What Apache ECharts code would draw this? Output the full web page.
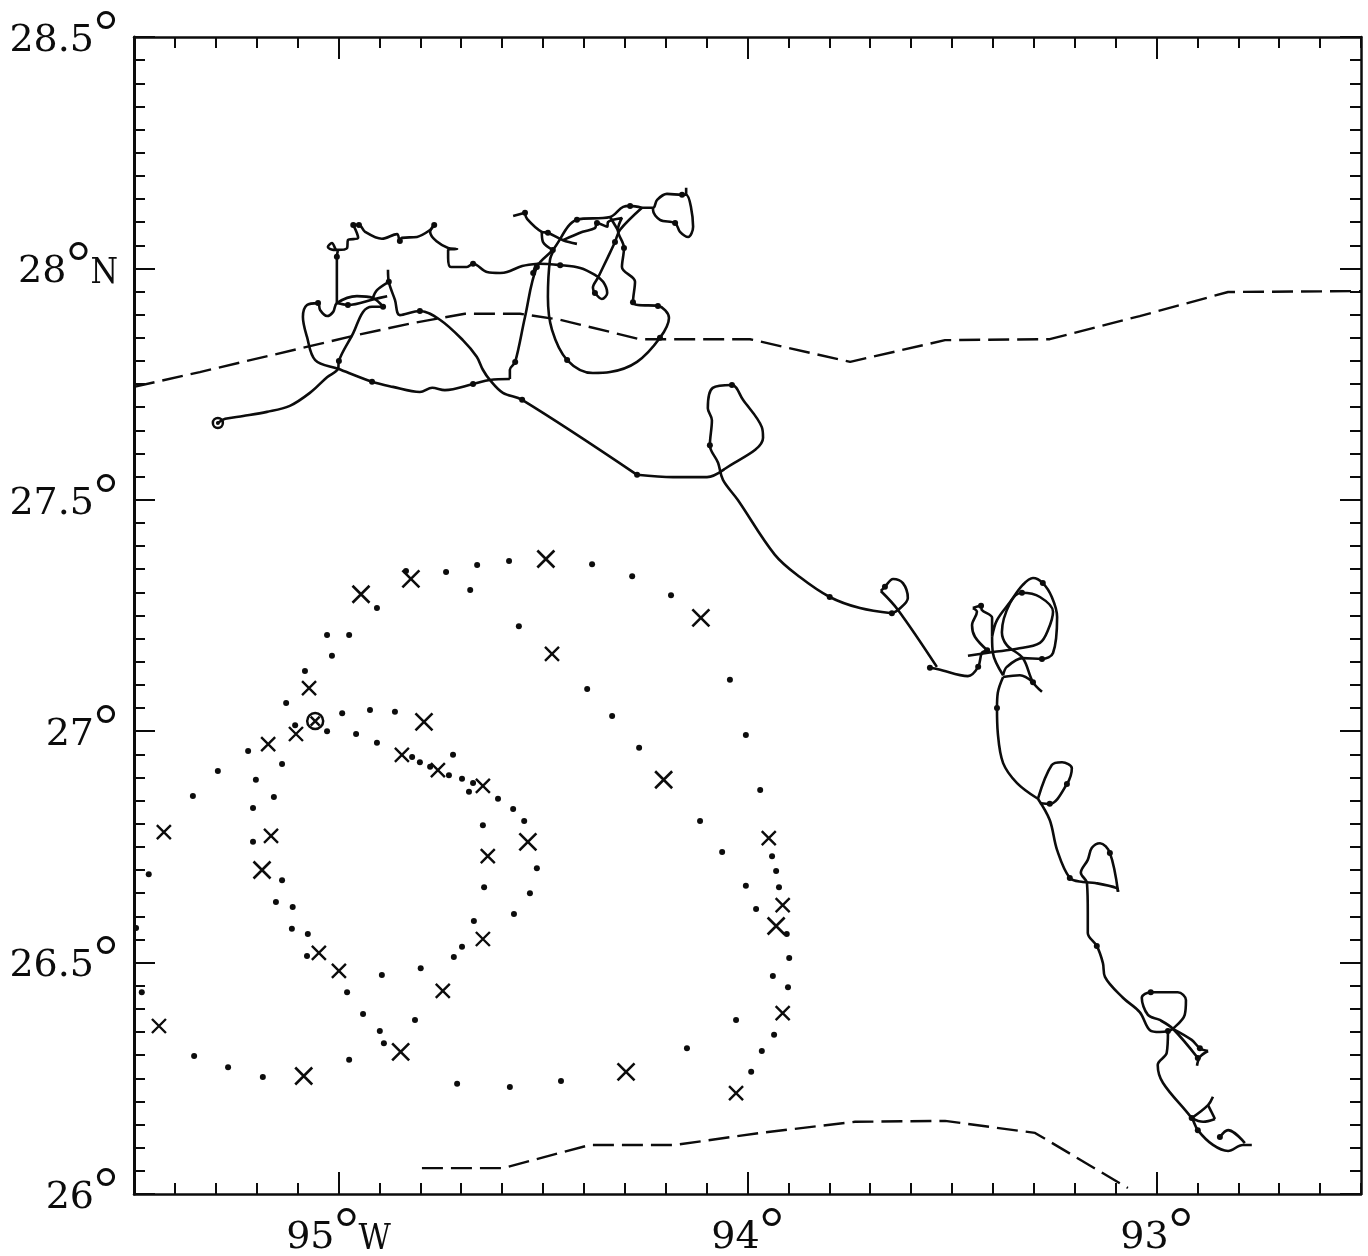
<!DOCTYPE html>
<html><head><meta charset="utf-8">
<style>html,body{margin:0;padding:0;background:#fff}#c{width:1368px;height:1256px}</style>
<script src="https://cdn.jsdelivr.net/npm/echarts@6/dist/echarts.min.js"></script>
</head><body><div id="c"></div>
<script>
// All positions: [degrees west longitude, degrees north latitude]
const lonTicks = [95, 94, 93];
const latTicks = [26, 26.5, 27, 27.5, 28, 28.5];

const trackWest = [[95.295,27.666],[95.277,27.675],[95.233,27.681],[95.175,27.690],[95.119,27.703],[95.070,27.731],[95.028,27.765],[95.001,27.783],[94.999,27.800],[94.964,27.860],[94.940,27.906],[94.918,27.917],[94.891,27.917]];
const trackKnot = [[94.891,27.917],[94.916,27.936],[94.955,27.940],[95.004,27.925],[95.013,27.906],[95.028,27.897],[95.045,27.910],[95.050,27.925],[95.077,27.921],[95.087,27.895],[95.077,27.852],[95.057,27.802],[95.001,27.783],[94.918,27.755],[94.867,27.744],[94.801,27.733],[94.771,27.742],[94.740,27.737],[94.671,27.750],[94.630,27.759],[94.581,27.761]];
const trackRise = [[94.581,27.761],[94.581,27.781],[94.568,27.798],[94.544,27.895],[94.515,28.003],[94.476,28.040],[94.417,28.105],[94.336,28.111],[94.304,28.133],[94.287,28.135],[94.258,28.131]];
const trackHook = [[94.258,28.131],[94.312,28.083],[94.324,28.057],[94.341,28.025],[94.365,27.981],[94.378,27.958],[94.373,27.947],[94.356,27.934],[94.343,27.947],[94.353,27.971],[94.373,27.986],[94.409,28.001],[94.458,28.007],[94.512,28.010],[94.524,27.990]];
const trackNorth = [[95.004,27.925],[95.004,28.025],[95.001,28.040],[95.013,28.040],[95.026,28.046],[95.016,28.055],[95.004,28.040],[94.979,28.044],[94.977,28.061],[94.952,28.066],[94.964,28.094],[94.950,28.094],[94.935,28.079],[94.894,28.064],[94.857,28.074],[94.850,28.059],[94.845,28.066],[94.808,28.068],[94.776,28.083],[94.766,28.094]];
const trackNorth2 = [[94.766,28.094],[94.776,28.079],[94.732,28.044],[94.710,28.042],[94.732,28.040],[94.732,28.023],[94.725,28.003],[94.686,28.003],[94.671,28.010],[94.637,27.992],[94.605,27.990],[94.588,27.992],[94.551,28.005],[94.512,28.010]];
const trackSpur = [[95.004,27.925],[94.977,27.921],[94.911,27.934],[94.881,27.940]];
const trackSpur2 = [[94.916,27.936],[94.906,27.953],[94.877,27.971]];
const trackMain1 = [[94.879,27.997],[94.877,27.971],[94.862,27.932],[94.850,27.899],[94.801,27.908],[94.752,27.889],[94.696,27.845],[94.662,27.809],[94.647,27.781],[94.630,27.759],[94.598,27.731],[94.551,27.716],[94.270,27.554]];
const trackMain2 = [[94.270,27.554],[94.182,27.549],[94.099,27.549],[94.055,27.567],[93.962,27.634],[93.965,27.657],[94.011,27.716],[94.038,27.748],[94.085,27.742],[94.097,27.698],[94.087,27.672],[94.092,27.618],[94.072,27.580],[94.060,27.543],[94.024,27.500],[93.933,27.381],[93.872,27.333],[93.799,27.290],[93.725,27.266],[93.647,27.255]];
const trackMain3 = [[93.647,27.255],[93.632,27.262],[93.608,27.288],[93.620,27.320],[93.644,27.329],[93.664,27.312],[93.674,27.303]];
const trackMain4 = [[93.674,27.303],[93.632,27.262],[93.537,27.139]];
const trackMain5 = [[93.554,27.137],[93.534,27.134],[93.461,27.119],[93.436,27.139],[93.427,27.169],[93.414,27.175]];
const trackLoopA = [[93.414,27.175],[93.444,27.204],[93.451,27.229],[93.439,27.258],[93.449,27.266]];
const trackLoopB = [[93.449,27.266],[93.429,27.271],[93.427,27.262],[93.402,27.245],[93.402,27.204],[93.390,27.240],[93.358,27.279],[93.327,27.316],[93.302,27.331],[93.278,27.320],[93.256,27.290],[93.243,27.247],[93.253,27.169],[93.280,27.156],[93.327,27.158],[93.366,27.139],[93.375,27.121]];
const trackLoopC = [[93.375,27.121],[93.400,27.169],[93.402,27.204]];
const trackLoopD = [[93.461,27.163],[93.400,27.171],[93.341,27.178],[93.285,27.191],[93.265,27.219],[93.253,27.258],[93.285,27.290],[93.329,27.299],[93.358,27.277],[93.378,27.214],[93.366,27.186],[93.327,27.158],[93.302,27.106],[93.280,27.085]];
const trackLoopE = [[93.375,27.117],[93.334,27.121],[93.302,27.106]];
const trackSouth1 = [[93.375,27.117],[93.388,27.083],[93.390,27.050],[93.388,26.996],[93.375,26.931],[93.341,26.888],[93.290,26.854]];
const trackSouth2 = [[93.290,26.854],[93.256,26.927],[93.231,26.933],[93.207,26.920],[93.219,26.886],[93.261,26.843],[93.285,26.845]];
const trackSouth3 = [[93.290,26.854],[93.261,26.808],[93.243,26.743],[93.212,26.683],[93.180,26.674],[93.150,26.672],[93.097,26.661],[93.094,26.653]];
const trackSouth4 = [[93.094,26.653],[93.114,26.737],[93.138,26.758],[93.158,26.748],[93.168,26.722],[93.185,26.694],[93.170,26.672],[93.168,26.607],[93.168,26.564],[93.146,26.536],[93.131,26.499],[93.126,26.469],[93.082,26.424],[93.041,26.393],[93.016,26.354],[92.992,26.350],[92.972,26.352],[92.960,26.357],[92.931,26.387],[92.928,26.419],[92.948,26.436],[93.014,26.436],[93.036,26.424],[93.021,26.387],[92.992,26.376],[92.960,26.357],[92.899,26.294]];
const trackEnd1 = [[92.960,26.357],[92.914,26.333],[92.894,26.315],[92.874,26.309]];
const trackEnd2 = [[92.874,26.309],[92.894,26.296],[92.901,26.277]];
const trackEnd3 = [[92.972,26.352],[92.975,26.305],[92.997,26.279],[92.984,26.240],[92.914,26.164],[92.899,26.138],[92.862,26.106],[92.825,26.093],[92.789,26.106],[92.767,26.106]];
const trackEnd4 = [[92.784,26.110],[92.825,26.138],[92.845,26.123]];
const trackEnd5 = [[92.914,26.164],[92.874,26.192],[92.862,26.210]];
const trackEnd6 = [[92.874,26.192],[92.857,26.162]];
const trackEnd7 = [[92.857,26.162],[92.886,26.156],[92.914,26.164]];
const trackTop1 = [[94.573,28.113],[94.544,28.120]];
const trackTop2 = [[94.544,28.120],[94.539,28.107],[94.503,28.079],[94.488,28.077],[94.451,28.061],[94.417,28.053]];
const trackTop3 = [[94.503,28.079],[94.500,28.057],[94.476,28.040]];
const trackTop4 = [[94.451,28.061],[94.403,28.079],[94.373,28.087],[94.368,28.098],[94.343,28.090],[94.341,28.100],[94.329,28.105],[94.307,28.109],[94.317,28.083],[94.302,28.044],[94.307,28.003],[94.275,27.971],[94.280,27.927],[94.268,27.921],[94.219,27.919],[94.192,27.893],[94.214,27.850],[94.270,27.798],[94.336,27.776],[94.378,27.774],[94.441,27.802],[94.478,27.867],[94.488,27.938],[94.483,28.018],[94.473,28.040]];
const trackTop5 = [[94.336,28.111],[94.317,28.083]];
const trackEast = [[94.258,28.131],[94.231,28.131],[94.221,28.148],[94.197,28.161],[94.160,28.159],[94.150,28.159],[94.133,28.090],[94.145,28.068],[94.165,28.079],[94.177,28.098],[94.214,28.105],[94.231,28.126],[94.231,28.131]];
const trackTip = [[94.150,28.174],[94.150,28.159]];
const tracks = [trackWest,trackKnot,trackRise,trackHook,trackNorth,trackNorth2,trackSpur,trackSpur2,trackMain1,trackMain2,trackMain3,trackMain4,trackMain5,trackLoopA,trackLoopB,trackLoopC,trackLoopD,trackLoopE,trackSouth1,trackSouth2,trackSouth3,trackSouth4,trackEnd1,trackEnd2,trackEnd3,trackEnd4,trackEnd5,trackEnd6,trackEnd7,trackTop1,trackTop2,trackTop3,trackTop4,trackTop5,trackEast,trackTip];

const trackFixes = [[94.999,27.800],[94.891,27.917],[94.977,27.921],[95.050,27.925],[95.004,28.025],[94.950,28.094],[94.964,28.094],[94.850,28.059],[94.766,28.094],[94.671,28.010],[94.877,27.971],[94.801,27.908],[94.918,27.755],[94.671,27.750],[94.568,27.798],[94.515,28.003],[94.524,27.990],[94.476,28.040],[94.417,28.105],[94.368,28.098],[94.373,27.947],[94.324,28.057],[94.302,28.044],[94.280,27.927],[94.219,27.919],[94.214,27.850],[94.441,27.802],[94.551,27.716],[94.270,27.554],[94.458,28.007],[94.488,28.077],[94.544,28.120],[94.287,28.135],[94.160,28.159],[94.177,28.098],[94.038,27.748],[94.092,27.618],[93.799,27.290],[93.647,27.255],[93.664,27.312],[93.554,27.137],[93.436,27.139],[93.414,27.175],[93.429,27.271],[93.329,27.299],[93.278,27.320],[93.280,27.156],[93.302,27.106],[93.390,27.050],[93.261,26.843],[93.219,26.886],[93.212,26.683],[93.114,26.737],[93.146,26.536],[93.014,26.436],[92.972,26.352],[92.894,26.315],[92.899,26.294],[92.914,26.164],[92.899,26.138],[92.845,26.123]];

const driftDots = [[94.835,27.346],[94.737,27.344],[94.661,27.359],[94.583,27.368],[94.678,27.305],[94.380,27.361],[94.282,27.335],[94.187,27.294],[94.559,27.227],[94.906,27.266],[95.028,27.208],[94.974,27.208],[95.016,27.163],[95.082,27.130],[95.128,27.061],[94.991,27.039],[94.923,27.046],[94.862,27.042],[95.106,27.013],[95.028,27.000],[94.957,26.994],[94.906,26.975],[95.221,26.957],[94.720,26.949],[94.820,26.944],[94.801,26.933],[94.776,26.923],[95.138,26.929],[95.295,26.914],[95.202,26.895],[94.730,26.905],[94.698,26.897],[94.681,26.869],[94.671,26.888],[95.158,26.858],[95.356,26.860],[95.209,26.834],[95.209,26.761],[95.464,26.691],[95.138,26.678],[95.153,26.631],[95.112,26.620],[95.495,26.575],[95.114,26.573],[95.075,26.562],[95.077,26.514],[95.481,26.436],[94.894,26.473],[94.979,26.436],[94.799,26.488],[94.718,26.512],[94.698,26.534],[94.940,26.389],[94.813,26.376],[94.899,26.352],[94.889,26.326],[95.353,26.298],[94.974,26.290],[95.270,26.274],[95.185,26.253],[94.710,26.238],[94.610,26.854],[94.573,26.832],[94.546,26.806],[94.647,26.797],[94.515,26.704],[94.644,26.663],[94.532,26.650],[94.571,26.605],[94.669,26.590],[94.581,26.231],[94.456,26.244],[94.148,26.315],[94.028,26.376],[93.935,26.344],[93.965,26.309],[93.991,26.264],[94.392,27.091],[94.331,27.033],[94.265,26.964],[94.043,27.111],[94.004,26.992],[93.969,26.873],[94.116,26.806],[94.062,26.739],[94.004,26.666],[93.940,26.730],[93.930,26.698],[93.923,26.663],[93.979,26.616],[93.904,26.562],[93.898,26.510],[93.938,26.471],[93.901,26.447]];

const crossesLarge = [[94.823,27.329],[94.945,27.296],[94.791,27.020],[95.187,26.700],[95.085,26.255],[94.848,26.307],[94.493,27.372],[94.114,27.245],[94.205,26.895],[94.537,26.761],[94.297,26.264],[93.930,26.579]];
const crossesSmall = [[95.072,27.093],[95.104,26.994],[95.172,26.972],[94.845,26.949],[94.757,26.916],[95.427,26.782],[95.165,26.774],[95.048,26.521],[94.999,26.482],[94.745,26.439],[95.439,26.363],[94.478,27.167],[94.647,26.882],[93.948,26.769],[94.635,26.730],[94.647,26.551],[94.028,26.218],[93.914,26.391],[93.914,26.624]];

const startMark = [[95.295,27.666]];
const endMark = [[95.057,27.022]];

const coastNorth = [[95.5,27.744],[95.339,27.776],[95.070,27.832],[94.955,27.856],[94.818,27.882],[94.691,27.902],[94.556,27.902],[94.458,27.889],[94.263,27.847],[93.994,27.847],[93.749,27.798],[93.517,27.845],[93.261,27.847],[93.041,27.897],[92.825,27.949],[92.5,27.951]];
const coastSouth = [[94.796,26.056],[94.598,26.056],[94.385,26.106],[94.177,26.106],[93.969,26.132],[93.737,26.156],[93.517,26.158],[93.297,26.132],[93.070,26.013]];

const INK = '#0c0c0c';
const FONT = '"DejaVu Serif","Liberation Serif",serif';
const LH = 46;
const rich = {
  d: {fontFamily: FONT, fontSize: 38, color: INK, verticalAlign: 'bottom', lineHeight: LH},
  o: {fontFamily: '"Liberation Serif",serif', fontSize: 60, color: INK, verticalAlign: 'bottom', lineHeight: LH, padding: [0, 0, -5, 0]},
  l: {fontFamily: '"DejaVu Serif Condensed","DejaVu Serif",serif', fontSize: 35, color: INK, verticalAlign: 'bottom', lineHeight: LH}
};
const latLabel = v => v === 28 ? '{d|28}{o|°}{l|N}' : '{d|' + v + '}{o|°}';
const lonLabel = v => v === 95 ? '{d|95}{o|°}{l|W}' : '{d|' + v + '}{o|°}';

const rect = {left: 134, top: 37, width: 1227, height: 1157, containLabel: false, outerBoundsMode: 'none'};
const line = w => ({show: true, onZero: false, lineStyle: {color: INK, width: w}});
const xBase = {type: 'value', inverse: true, min: 92.5, max: 95.5, splitLine: {show: false}};
const yBase = {type: 'value', min: 26, max: 28.5, splitLine: {show: false}};
const tick = len => ({show: true, inside: true, length: len, lineStyle: {color: INK, width: 2}});
const hide = {show: false};
const solid = {color: INK, opacity: 1};
const stroked = w => ({color: 'transparent', borderColor: INK, borderWidth: w, opacity: 1});
const CROSS = 'path://M0,0L10,10M10,0L0,10';

const option = {
  animation: false,
  backgroundColor: '#fff',
  grid: [Object.assign({}, rect), Object.assign({}, rect)],
  xAxis: [
    Object.assign({}, xBase, {gridIndex: 0, position: 'bottom', interval: 0.1, axisLine: line(2.5), axisTick: tick(11), axisLabel: hide}),
    Object.assign({}, xBase, {gridIndex: 0, position: 'top', interval: 0.1, axisLine: line(2.5), axisTick: tick(11), axisLabel: hide}),
    Object.assign({}, xBase, {gridIndex: 1, position: 'bottom', axisLine: hide,
      axisTick: Object.assign(tick(22), {customValues: lonTicks}),
      axisLabel: {show: true, customValues: lonTicks, margin: 17, formatter: lonLabel, rich: rich, hideOverlap: false}}),
    Object.assign({}, xBase, {gridIndex: 1, position: 'top', axisLine: hide,
      axisTick: Object.assign(tick(22), {customValues: lonTicks}), axisLabel: hide})
  ],
  yAxis: [
    Object.assign({}, yBase, {gridIndex: 0, position: 'left', interval: 0.05, axisLine: line(3), axisTick: tick(11), axisLabel: hide}),
    Object.assign({}, yBase, {gridIndex: 0, position: 'right', interval: 0.05, axisLine: line(2.5), axisTick: tick(11), axisLabel: hide}),
    Object.assign({}, yBase, {gridIndex: 1, position: 'left', axisLine: hide,
      axisTick: Object.assign(tick(21), {customValues: latTicks}),
      axisLabel: {show: true, customValues: latTicks, margin: 16, formatter: latLabel, rich: rich, hideOverlap: false}}),
    Object.assign({}, yBase, {gridIndex: 1, position: 'right', axisLine: hide,
      axisTick: Object.assign(tick(21), {customValues: latTicks}), axisLabel: hide})
  ],
  series: [
    ...tracks.map(t => ({type: 'line', xAxisIndex: 0, yAxisIndex: 0, data: t, smooth: 0.35, showSymbol: false, symbol: 'none',
      lineStyle: {color: INK, width: 2.6}, silent: true})),
    {type: 'line', xAxisIndex: 0, yAxisIndex: 0, data: coastNorth, showSymbol: false, symbol: 'none',
      lineStyle: {color: INK, width: 2.4, type: [21, 8]}},
    {type: 'line', xAxisIndex: 0, yAxisIndex: 0, data: coastSouth, showSymbol: false, symbol: 'none',
      lineStyle: {color: INK, width: 2.4, type: [21, 8]}},
    {type: 'scatter', xAxisIndex: 0, yAxisIndex: 0, data: trackFixes, symbol: 'circle', symbolSize: 6, itemStyle: solid},
    {type: 'scatter', xAxisIndex: 0, yAxisIndex: 0, data: driftDots, symbol: 'circle', symbolSize: 6, itemStyle: solid},
    {type: 'scatter', xAxisIndex: 0, yAxisIndex: 0, data: crossesLarge, symbol: CROSS, symbolSize: 17, itemStyle: stroked(2.6)},
    {type: 'scatter', xAxisIndex: 0, yAxisIndex: 0, data: crossesSmall, symbol: CROSS, symbolSize: 14, itemStyle: stroked(2.4)},
    {type: 'scatter', xAxisIndex: 0, yAxisIndex: 0, data: startMark, symbol: 'circle', symbolSize: 10, itemStyle: stroked(2.5)},
    {type: 'scatter', xAxisIndex: 0, yAxisIndex: 0, data: startMark, symbol: 'circle', symbolSize: 4, itemStyle: solid},
    {type: 'scatter', xAxisIndex: 0, yAxisIndex: 0, data: endMark, symbol: 'circle', symbolSize: 16, itemStyle: stroked(2.5)},
    {type: 'scatter', xAxisIndex: 0, yAxisIndex: 0, data: endMark, symbol: CROSS, symbolSize: 9, itemStyle: stroked(2.5)}
  ]
};
echarts.init(document.getElementById('c'), null, {renderer: 'canvas'}).setOption(option);
</script></body></html>
